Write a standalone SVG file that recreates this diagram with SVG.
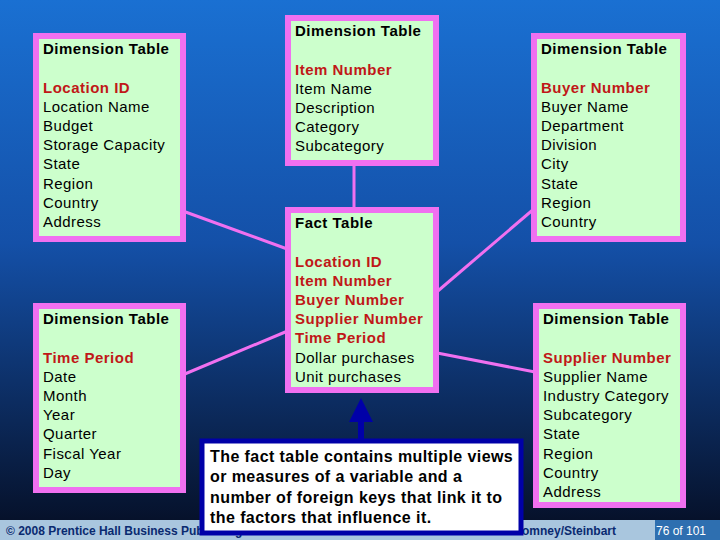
<svg xmlns="http://www.w3.org/2000/svg" width="720" height="540" viewBox="0 0 720 540">
<defs>
<linearGradient id="bg" x1="0" y1="0" x2="0" y2="1"><stop offset="0" stop-color="#1a70d2"/><stop offset="0.45" stop-color="#1450a8"/><stop offset="1" stop-color="#050d22"/></linearGradient>
<marker id="ah" markerWidth="4" markerHeight="4" refX="2" refY="2" orient="auto" markerUnits="strokeWidth"><path d="M0,0L4,2L0,4z" fill="#0000a8"/></marker>
<style>
.box{fill:#ccffcc;stroke:#f070f0;stroke-width:6}
text{font-family:"Liberation Sans",Arial,sans-serif;font-size:15px;fill:#000;letter-spacing:0.45px}
.h{font-weight:bold;font-size:15px;letter-spacing:0.5px}
.k{fill:#c01818;font-weight:bold;font-size:15px;letter-spacing:0.5px}
.c{font-weight:bold;font-size:16px;letter-spacing:0.42px}
.f{stroke:#f070f0;stroke-width:3;fill:none}
</style>
</defs>
<rect width="720" height="540" fill="url(#bg)"/>
<rect x="0" y="520" width="720" height="20" fill="#a9c6de"/>
<rect x="655" y="520" width="65" height="20" fill="#2e6fb0"/>
<text x="6" y="535" style="font-size:12px;font-weight:bold;fill:#0a2a70;letter-spacing:0">© 2008 Prentice Hall Business Publishing</text>
<text x="616" y="535" text-anchor="end" style="font-size:12px;font-weight:bold;fill:#0a2a70;letter-spacing:0">Romney/Steinbart</text>
<text x="706" y="535" text-anchor="end" style="font-size:12px;fill:#fff;letter-spacing:0">76 of 101</text>
<g id="connectors">
<line class="f" x1="180" y1="210" x2="290" y2="250"/>
<line class="f" x1="180" y1="376" x2="290" y2="330"/>
<line class="f" x1="535" y1="208" x2="432" y2="296"/>
<line class="f" x1="535" y1="372" x2="432" y2="352"/>
<line class="f" x1="354" y1="163" x2="354" y2="210"/>
<line x1="361" y1="440" x2="361" y2="410" stroke="#0000a8" stroke-width="6" marker-end="url(#ah)"/>
</g>
<g id="location"><rect class="box" x="36" y="36" width="147" height="203"/>
<text class="h" x="43" y="54">Dimension Table</text><text class="k" x="43" y="93">Location ID</text>
<text x="43" y="112">Location Name</text><text x="43" y="131">Budget</text><text x="43" y="150">Storage Capacity</text><text x="43" y="169">State</text><text x="43" y="189">Region</text><text x="43" y="208">Country</text><text x="43" y="227">Address</text></g>
<g id="item"><rect class="box" x="288" y="18" width="148" height="145"/>
<text class="h" x="295" y="36">Dimension Table</text><text class="k" x="295" y="75">Item Number</text>
<text x="295" y="94">Item Name</text><text x="295" y="113">Description</text><text x="295" y="132">Category</text><text x="295" y="151">Subcategory</text></g>
<g id="fact"><rect class="box" x="288" y="210" width="148" height="180"/>
<text class="h" x="295" y="228">Fact Table</text><text class="k" x="295" y="267">Location ID</text><text class="k" x="295" y="286">Item Number</text><text class="k" x="295" y="305">Buyer Number</text><text class="k" x="295" y="324">Supplier Number</text><text class="k" x="295" y="343">Time Period</text>
<text x="295" y="363">Dollar purchases</text><text x="295" y="382">Unit purchases</text></g>
<g id="buyer"><rect class="box" x="534" y="36" width="149" height="203"/>
<text class="h" x="541" y="54">Dimension Table</text><text class="k" x="541" y="93">Buyer Number</text>
<text x="541" y="112">Buyer Name</text><text x="541" y="131">Department</text><text x="541" y="150">Division</text><text x="541" y="169">City</text><text x="541" y="189">State</text><text x="541" y="208">Region</text><text x="541" y="227">Country</text></g>
<g id="time"><rect class="box" x="36" y="306" width="147" height="184"/>
<text class="h" x="43" y="324">Dimension Table</text><text class="k" x="43" y="363">Time Period</text>
<text x="43" y="382">Date</text><text x="43" y="401">Month</text><text x="43" y="420">Year</text><text x="43" y="439">Quarter</text><text x="43" y="459">Fiscal Year</text><text x="43" y="478">Day</text></g>
<g id="supplier"><rect class="box" x="536" y="306" width="147" height="199"/>
<text class="h" x="543" y="324">Dimension Table</text><text class="k" x="543" y="363">Supplier Number</text>
<text x="543" y="382">Supplier Name</text><text x="543" y="401">Industry Category</text><text x="543" y="420">Subcategory</text><text x="543" y="439">State</text><text x="543" y="459">Region</text><text x="543" y="478">Country</text><text x="543" y="497">Address</text></g>
<g id="callout"><rect x="202" y="441" width="319" height="92" fill="#fff" stroke="#0000a8" stroke-width="5"/>
<text class="c" x="210" y="462">The fact table contains multiple views</text><text class="c" x="210" y="482">or measures of a variable and a</text><text class="c" x="210" y="503">number of foreign keys that link it to</text><text class="c" x="210" y="523">the factors that influence it.</text></g>
</svg>
